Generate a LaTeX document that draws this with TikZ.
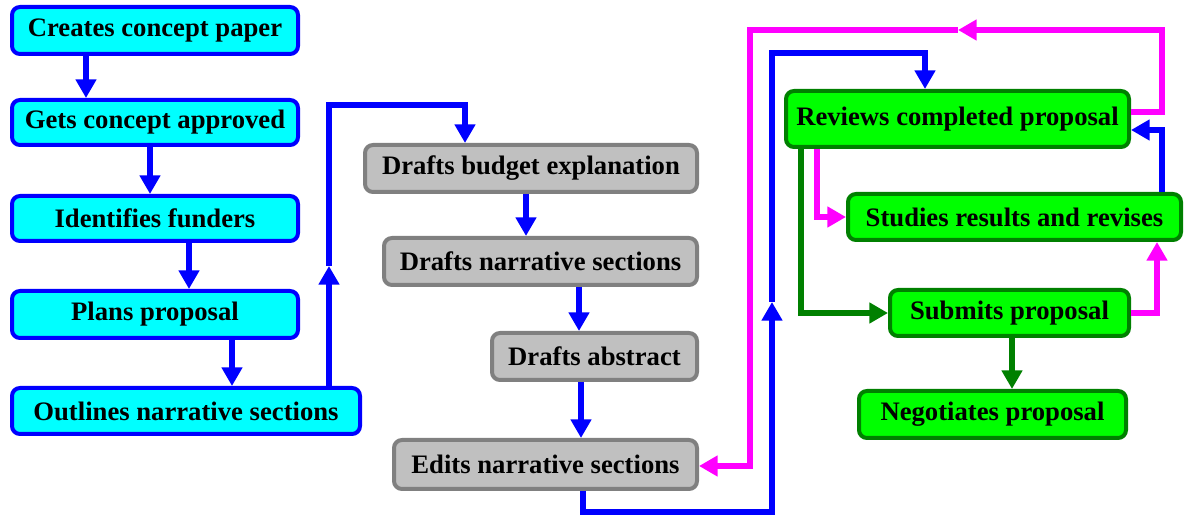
\documentclass[tikz,border=0pt]{standalone}
\usepackage{fontspec}
\setmainfont{Liberation Serif}
\usepackage{tikz}
\usetikzlibrary{arrows.meta}

\definecolor{boxcyan}{RGB}{0,255,255}
\definecolor{boxblue}{RGB}{0,0,255}
\definecolor{boxsilver}{RGB}{192,192,192}
\definecolor{boxgray}{RGB}{128,128,128}
\definecolor{boxlime}{RGB}{0,255,0}
\definecolor{boxgreen}{RGB}{0,128,0}
\definecolor{linkmag}{RGB}{255,0,255}

\begin{document}
\begin{tikzpicture}[x=0.75pt,y=0.75pt,yscale=-1,xscale=1,
  box/.style={rounded corners=6pt, line width=3pt, inner sep=0pt, align=center,
    minimum height=35.25pt, font=\fontsize{20}{24}\selectfont\bfseries},
  cyanbox/.style={box, draw=boxblue, fill=boxcyan},
  graybox/.style={box, draw=boxgray, fill=boxsilver},
  greenbox/.style={box, draw=boxgreen, fill=boxlime},
  link/.style={line width=4pt, -{Triangle[width=15pt,length=14pt]}},
  bluelink/.style={link, draw=boxblue},
  maglink/.style={link, draw=linkmag},
  greenlink/.style={link, draw=boxgreen}]
\useasboundingbox (0,0) rectangle (1186,516);

% Text Node
\node [cyanbox, minimum width=214.5pt] (creates) at (155,30.5) {Creates concept paper};
% Text Node
\node [cyanbox, minimum width=214.5pt, minimum height=33.75pt] (approved) at (155,122.5) {Gets concept approved};
% Text Node
\node [cyanbox, minimum width=214.5pt, minimum height=33.75pt] (funders) at (155,218.5) {Identifies funders};
% Text Node
\node [cyanbox, minimum width=214.5pt] (plans) at (155,314.5) {Plans proposal};
% Text Node
\node [cyanbox, minimum width=261pt, minimum height=34.5pt] (outlines) at (186,411) {Outlines narrative sections};

% Text Node
\node [graybox, minimum width=249pt] (budget) at (531,168.5) {Drafts budget explanation};
% Text Node
\node [graybox, minimum width=234.75pt] (narrative) at (540.5,261.5) {Drafts narrative sections};
% Text Node
\node [graybox, minimum width=153.75pt] (abstract) at (594.5,356.5) {Drafts abstract};
% Text Node
\node [graybox, minimum width=227.25pt, minimum height=36.75pt] (edits) at (545.5,464.5) {Edits narrative sections};

% Text Node
\node [greenbox, minimum width=257.25pt, minimum height=42pt] (reviews) at (957.5,119) {Reviews completed proposal};
% Text Node
\node [greenbox, minimum width=249.75pt, minimum height=34.5pt] (studies) at (1014.5,217) {Studies results and revises};
% Text Node
\node [greenbox, minimum width=179.25pt, minimum height=34.5pt] (submits) at (1009.5,313) {Submits proposal};
% Text Node
\node [greenbox, minimum width=200.25pt] (negotiates) at (992.5,414.5) {Negotiates proposal};

% kinks where a long line carries its arrowhead
\coordinate (outkink) at (329,266);
\coordinate (editkink) at (772,302);
\coordinate (revkink) at (958,30);

%Straight Lines
\draw [bluelink] (86,0 |- creates.south) -- (86,0 |- approved.north);
\draw [bluelink] (150,0 |- approved.south) -- (150,0 |- funders.north);
\draw [bluelink] (189,0 |- funders.south) -- (189,0 |- plans.north);
\draw [bluelink] (232,0 |- plans.south) -- (232,0 |- outlines.north);
%Straight Lines
\draw [bluelink] (outkink |- outlines.north) -- (outkink);
\draw [bluelink] (outkink) |- (465,105) -- (465,0 |- budget.north);
%Straight Lines
\draw [bluelink] (526,0 |- budget.south) -- (526,0 |- narrative.north);
\draw [bluelink] (579,0 |- narrative.south) -- (579,0 |- abstract.north);
\draw [bluelink] (581,0 |- abstract.south) -- (581,0 |- edits.north);
%Straight Lines
\draw [bluelink] (583,0 |- edits.south) |- (772,512) -- (editkink);
\draw [bluelink] (editkink) |- (925,53) -- (925,0 |- reviews.north);
%Straight Lines
\draw [maglink] (reviews.east |- 0,112) -| (1162,30) -- (revkink);
\draw [maglink] (revkink) -| (750,466) -- (edits.east |- 0,466);
%Straight Lines
\draw [maglink] (817,0 |- reviews.south) |- (studies.west);
\draw [greenlink] (801,0 |- reviews.south) |- (submits.west);
\draw [bluelink] (1162,0 |- studies.north) |- (reviews.east |- 0,130);
\draw [maglink] (submits.east) -| (1157,0 |- studies.south);
\draw [greenlink] (1012,0 |- submits.south) -- (1012,0 |- negotiates.north);

\end{tikzpicture}
\end{document}
